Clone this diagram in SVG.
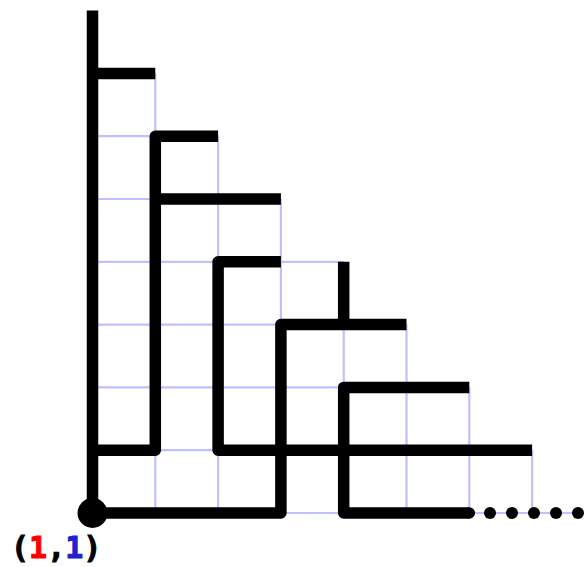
<svg xmlns="http://www.w3.org/2000/svg" width="585" height="567" viewBox="0 0 585 567">
<style>
.grid{stroke:#c0c0ff;stroke-width:2.2;fill:none}
.bar{stroke:#000;stroke-width:11.5;fill:none;stroke-linejoin:round;stroke-linecap:butt}
.lbl{font-family:"DejaVu Sans Mono","Liberation Mono",monospace;font-weight:bold;font-size:30px;stroke-width:1;paint-order:stroke}
</style>
<rect width="585" height="567" fill="#fff"/>
<g id="grid">
<path class="grid" d="M92.5,450.2H532.1 M92.5,387.4H469.3 M92.5,324.6H406.5 M92.5,261.8H343.7 M92.5,199H280.9 M92.5,136.2H218.1 M92.5,73.4H155.3 M92.5,513H580"/>
<path class="grid" d="M155.3,513V73.4 M218.1,513V136.2 M280.9,513V199 M343.7,513V261.8 M406.5,513V324.6 M469.3,513V387.4 M532.1,513V450.2"/>
</g>
<g id="connectors">
<path id="p1" class="bar" d="M92.5,10.6V513 M92.5,73.4H155.3"/>
<path id="p2" class="bar" d="M92.5,450.2H155.3V136.2H218.1 M155.3,199H280.9"/>
<path id="p3" class="bar" d="M280.9,261.8H218.1V450.2H532.1"/>
<path id="p4" class="bar" d="M92.5,513H280.9V324.6H406.5 M343.7,261.8V324.6"/>
<path id="p5" class="bar" d="M469.3,387.4H343.7V513H469.3"/>
<circle cx="469.3" cy="513" r="5.75" fill="#000"/>
</g>
<g id="dots" fill="#000">
<circle cx="490" cy="513" r="6"/>
<circle cx="512" cy="513" r="6"/>
<circle cx="534" cy="513" r="6"/>
<circle cx="556" cy="513" r="6"/>
<circle cx="578" cy="513" r="6"/>
</g>
<g id="origin">
<circle cx="92.5" cy="513" r="15" fill="#000"/>
<text class="lbl" x="11" y="558"><tspan fill="#000" stroke="#000">(</tspan><tspan fill="#ff0000" stroke="#ff0000">1</tspan><tspan fill="#000" stroke="#000">,</tspan><tspan fill="#2222cc" stroke="#2222cc">1</tspan><tspan fill="#000" stroke="#000">)</tspan></text>
</g>
</svg>
